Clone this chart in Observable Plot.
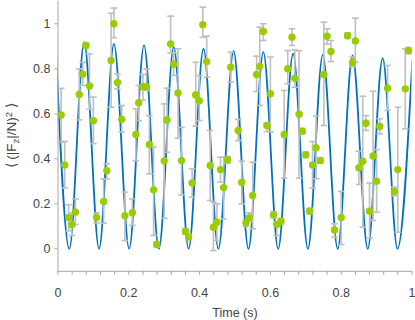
<!DOCTYPE html>
<html><head><meta charset="utf-8">
<script src="https://cdn.jsdelivr.net/npm/d3@7"></script>
<script src="https://cdn.jsdelivr.net/npm/@observablehq/plot@0.6"></script>
<style>body{margin:0;background:#fff}</style>
</head><body><div id="chart"></div>
<script>
// measured samples: time (s), mean value, upper and lower error bounds
const time  = [0.009,0.019,0.030,0.039,0.049,0.060,0.070,0.079,0.089,0.100,0.109,0.129,0.138,0.150,0.158,0.168,0.180,0.189,0.210,0.220,0.228,0.240,0.250,0.258,0.270,0.279,0.300,0.308,0.318,0.327,0.339,0.349,0.360,0.369,0.379,0.389,0.399,0.409,0.420,0.430,0.439,0.449,0.459,0.468,0.479,0.488,0.509,0.519,0.531,0.540,0.550,0.561,0.570,0.580,0.590,0.600,0.609,0.618,0.630,0.639,0.649,0.661,0.669,0.681,0.690,0.700,0.711,0.719,0.729,0.741,0.751,0.760,0.771,0.781,0.800,0.818,0.832,0.840,0.850,0.861,0.870,0.880,0.890,0.900,0.909,0.931,0.950,0.960,0.981,0.990];
const value = [0.595,0.373,0.139,0.107,0.163,0.686,0.776,0.904,0.724,0.569,0.139,0.210,0.347,0.837,1.000,0.739,0.576,0.147,0.160,0.508,0.649,0.720,0.721,0.464,0.262,0.019,0.391,0.573,0.910,0.820,0.693,0.392,0.077,0.052,0.293,0.684,0.658,0.996,0.832,0.370,0.096,0.118,0.352,0.272,0.396,0.807,0.526,0.295,0.116,0.138,0.237,0.775,0.810,0.966,0.548,0.689,0.151,0.108,0.123,0.508,0.800,0.940,0.758,0.598,0.523,0.418,0.167,0.373,0.449,0.392,0.775,0.945,0.877,0.084,0.139,0.947,0.829,0.924,0.360,0.389,0.558,0.167,0.413,0.300,0.544,0.714,0.255,0.352,0.711,0.881];
const errHi = [0.713,0.477,0.196,0.160,0.222,0.800,0.829,0.915,0.867,0.674,0.160,0.311,0.378,1.047,1.070,0.778,0.637,0.252,0.222,0.622,0.726,0.775,0.800,0.592,0.452,0.030,0.644,0.714,1.034,0.870,0.889,0.540,0.090,0.065,0.356,0.829,0.770,1.074,0.945,0.526,0.207,0.200,0.407,0.407,0.410,0.874,0.575,0.389,0.130,0.160,0.385,0.856,0.985,1.000,0.560,0.852,0.165,0.120,0.135,0.704,0.881,0.978,0.884,0.880,0.535,0.430,0.180,0.477,0.590,0.405,1.007,0.978,0.926,0.111,0.255,0.960,0.852,1.025,0.434,0.678,0.592,0.292,0.700,0.441,0.578,0.815,0.274,0.629,0.889,0.895];
const errLo = [0.474,0.270,0.080,0.059,0.108,0.573,0.726,0.893,0.620,0.467,0.116,0.114,0.310,0.629,0.938,0.711,0.518,0.037,0.104,0.392,0.570,0.660,0.704,0.333,0.059,0.008,0.136,0.429,0.870,0.770,0.492,0.240,0.065,0.040,0.229,0.545,0.570,0.940,0.763,0.215,-0.008,0.037,0.296,0.133,0.380,0.741,0.481,0.200,0.100,0.120,0.089,0.699,0.637,0.926,0.521,0.520,0.137,0.059,0.110,0.314,0.733,0.904,0.718,0.314,0.510,0.405,0.155,0.270,0.311,0.380,0.548,0.910,0.832,0.052,0.019,0.935,0.810,0.829,0.286,0.096,0.526,0.047,0.126,0.163,0.511,0.615,0.236,0.074,0.533,0.867];

// model curve: successive peaks and troughs
const curveT = [-0.007,0.032,0.074,0.116,0.158,0.201,0.243,0.285,0.327,0.369,0.411,0.453,0.496,0.538,0.580,0.622,0.664,0.706,0.748,0.790,0.832,0.875,0.917,0.959,1.001];
const curveV = [0.93,0,0.918,0,0.911,0,0.904,0,0.896,0,0.889,0,0.879,0,0.874,0,0.867,0,0.862,0,0.859,0,0.847,0,0.840];

const xTicks = [0,0.2,0.4,0.6,0.8,1];
const xMinorTicks = [0,0.04,0.08,0.12,0.16,0.2,0.24,0.28,0.32,0.36,0.4,0.44,0.48,0.52,0.56,0.6,0.64,0.68,0.72,0.76,0.8,0.84,0.88,0.92,0.96,1];
const yTicks = [0,0.2,0.4,0.6,0.8,1];

const points = time.map((t, i) => ({t, v: value[i], hi: errHi[i], lo: errLo[i]}));
const curve = curveT.map((t, i) => ({t, v: curveV[i]}));

const capSymbol = {draw(ctx, size) { const w = Math.sqrt(size / Math.PI); ctx.moveTo(-w, 0); ctx.lineTo(w, 0); }};

const FONT = "Liberation Sans, Arial, Helvetica, sans-serif";
const axisGray = "#a6a6a6";
const textGray = "#444444";
const barGray = "#bfbfbf";

const plot = Plot.plot({
  width: 415, height: 320,
  marginLeft: 57.5, marginRight: 3.5, marginTop: 0.8, marginBottom: 49.2,
  style: {fontFamily: FONT, fontSize: "12.5px", background: "#fff"},
  x: {domain: [0, 1]},
  y: {domain: [-0.1, 1.1]},
  marks: [
    Plot.line(curve, {x: "t", y: "v", curve: "monotone-x", stroke: "#0072BD", strokeWidth: 1.8, clip: true}),
    Plot.ruleX(points, {x: "t", y1: "lo", y2: "hi", stroke: barGray, strokeWidth: 1.6}),
    Plot.dot(points, {x: "t", y: "hi", symbol: capSymbol, r: 3.3, stroke: barGray, strokeWidth: 1.6, fill: "none"}),
    Plot.dot(points, {x: "t", y: "lo", symbol: capSymbol, r: 3.3, stroke: barGray, strokeWidth: 1.6, fill: "none"}),
    Plot.dot(points, {x: "t", y: "v", r: 3.7, fill: "#9ACD00", stroke: "none"}),
    Plot.ruleX([0], {stroke: axisGray, strokeWidth: 1}),
    Plot.ruleY([-0.1], {stroke: axisGray, strokeWidth: 1}),
    Plot.axisY({ticks: yTicks, tickSize: 3, tickPadding: 4.5, stroke: axisGray, fill: textGray, label: null, tickFormat: d => String(d)}),
    Plot.axisX({ticks: xMinorTicks, tickSize: 4, tickFormat: () => "", stroke: axisGray, label: null}),
    Plot.axisX({ticks: xTicks, tickSize: 0, tickPadding: 16.5, fill: textGray, tickFormat: d => String(d),
      label: "Time (s)", labelAnchor: "center", labelArrow: "none", labelOffset: 46})
  ]
});
document.getElementById("chart").appendChild(plot);

// y-axis label with subscript and superscript
const yC = plot.scale("y").apply(0.5);
const svg = d3.select(plot);
const lab = svg.append("text")
  .attr("transform", `translate(16, ${yC}) rotate(-90)`)
  .attr("text-anchor", "middle")
  .attr("fill", textGray)
  .style("font-family", FONT)
  .style("font-size", "13.5px");
lab.append("tspan").text("⟨ (|F");
lab.append("tspan").attr("baseline-shift", "-25%").style("font-size", "9.5px").text("z");
lab.append("tspan").text("|/N)");
lab.append("tspan").attr("baseline-shift", "45%").style("font-size", "9.5px").text("2");
lab.append("tspan").text(" ⟩");
</script>
</body></html>
